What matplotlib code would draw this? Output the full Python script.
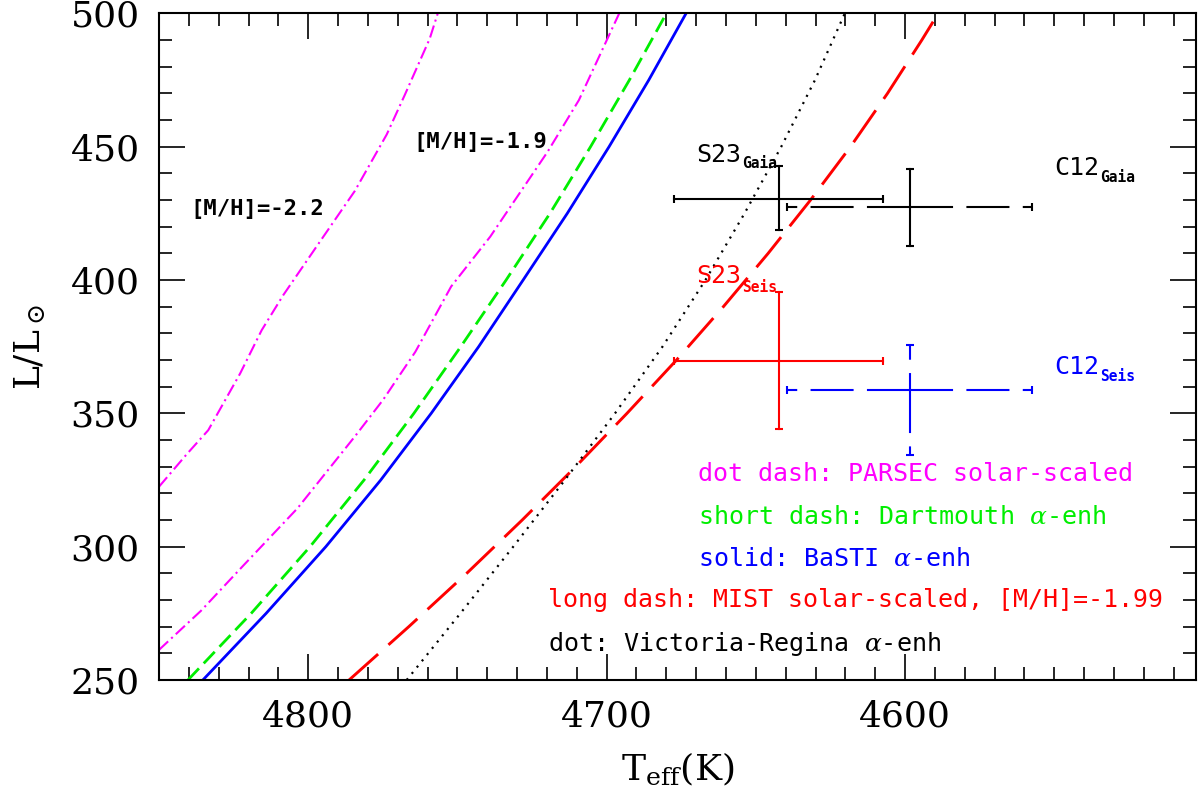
import numpy as np
import matplotlib
matplotlib.use('Agg')
import matplotlib.pyplot as plt
from matplotlib.ticker import MultipleLocator

plt.rcParams['lines.scale_dashes'] = False
plt.rcParams['mathtext.fontset'] = 'dejavuserif'
plt.rcParams['font.family'] = 'DejaVu Serif'

# isochrones (Teff in K, L in Lsun)
parsec22_T = [4850, 4840.7, 4833.5, 4822.8, 4815.6, 4808.4, 4796.4, 4784.4, 4773.7, 4767.7, 4759.3, 4756.6]
parsec22_L = [322.5, 334.7, 343.7, 365.0, 381.2, 394.3, 413.9, 433.4, 454.6, 469.3, 490.5, 500]
parsec19_T = [4850, 4835.9, 4821.6, 4803.6, 4784.4, 4774.9, 4764.1, 4752.1, 4739.0, 4719.8, 4709.3, 4695.8]
parsec19_L = [261.3, 276, 293.1, 314.4, 341.3, 355.1, 373.1, 397.6, 416.3, 448.1, 467.5, 500]
iso_L = [250, 275, 300, 325, 350, 375, 400, 425, 450, 475, 500]
dartmouth_T = [4840.3, 4819.1, 4799.4, 4781.3, 4764.6, 4748.9, 4733.7, 4719.0, 4705.4, 4692.4, 4680.0]
basti_T = [4835.3, 4814.1, 4794.1, 4775.7, 4758.8, 4742.9, 4728.0, 4713.2, 4699.2, 4685.9, 4673.4]
mist_L = [250, 270, 290, 310, 330, 350, 370, 390, 410, 430, 450, 470, 490, 500]
mist_T = [4786.3, 4766.3, 4746.9, 4728.3, 4710.4, 4693.2, 4676.6, 4660.9, 4645.9, 4631.7, 4618.3, 4605.9, 4594.4, 4588.9]
vr_T = [4767.0, 4749.0, 4731.3, 4714.0, 4697.2, 4681.3, 4666.9, 4653.8, 4641.5, 4630.2, 4620.2]

# observed points: S23_Gaia, C12_Gaia, S23_Seis, C12_Seis
obs_T = [4642.4, 4598.5, 4642.4, 4598.5]
obs_L = [430.4, 427.5, 369.8, 358.8]
obs_dT = [35, 41, 35, 41]
obs_dL_lo = [11.7, 14.6, 25.8, 24.4]
obs_dL_hi = [12.5, 14.2, 25.8, 16.8]

fig = plt.figure(figsize=(12, 7.93), dpi=100)
ax = fig.add_axes([159/1200, (793-680)/793, (1196-159)/1200, (680-13.5)/793])

ax.plot(parsec22_T, parsec22_L, color='magenta', lw=1.5, ls=(0, (9, 3, 1.5, 3)))
ax.plot(parsec19_T, parsec19_L, color='magenta', lw=1.5, ls=(0, (9, 3, 1.5, 3)))
ax.plot(dartmouth_T, iso_L, color='#00ee00', lw=2.0, ls=(0, (11.5, 5)))
ax.plot(basti_T, iso_L, color='blue', lw=2.0)
ax.plot(mist_T, mist_L, color='red', lw=2.1, ls=(0, (28, 10)))
ax.plot(vr_T, iso_L, color='black', lw=1.6, ls=(0, (1.5, 4.3)))

def cross(T, L, dT, dlo, dhi, color, hls, vls_up, vls_dn):
    kw = dict(color=color, lw=1.5)
    ax.plot([T, T + dT], [L, L], ls=hls, **kw)
    ax.plot([T, T - dT], [L, L], ls=hls, **kw)
    ax.plot([T, T], [L, L + dhi], ls=vls_up, **kw)
    ax.plot([T, T], [L, L - dlo], ls=vls_dn, **kw)
    ax.plot([T - dT, T + dT], [L, L], ls='none', marker='|', ms=6, mew=1.5, color=color)
    ax.plot([T, T], [L - dlo, L + dhi], ls='none', marker='_', ms=6, mew=1.5, color=color)

dash = (0, (31, 9.6))
cross(obs_T[0], obs_L[0], obs_dT[0], obs_dL_lo[0], obs_dL_hi[0], 'black', '-', '-', '-')
cross(obs_T[1], obs_L[1], obs_dT[1], obs_dL_lo[1], obs_dL_hi[1], 'black', dash, '-', '-')
cross(obs_T[2], obs_L[2], obs_dT[2], obs_dL_lo[2], obs_dL_hi[2], 'red', '-', '-', '-')
cross(obs_T[3], obs_L[3], obs_dT[3], obs_dL_lo[3], obs_dL_hi[3], 'blue', dash, (18.8, (31, 9.6)), dash)

mono = 'DejaVu Sans Mono'
def tag(T, L, main, sub, Tsub, Lsub, color):
    ax.text(T, L, main, color=color, family=mono, fontsize=18, va='baseline', ha='left')
    ax.text(Tsub, Lsub, sub, color=color, family=mono, fontsize=10.5, fontweight='bold',
            va='baseline', ha='left')

tag(4670, 444.4, 'S23', 'Gaia', 4654.7, 441.9, 'black')
tag(4550, 439.4, 'C12', 'Gaia', 4534.7, 436.9, 'black')
tag(4670, 398.8, 'S23', 'Seis', 4654.7, 395.6, 'red')
tag(4550, 364.6, 'C12', 'Seis', 4534.7, 362.1, 'blue')

ax.text(4839.5, 424.5, '[M/H]=-2.2', family=mono, fontsize=16, fontweight='bold', va='baseline')
ax.text(4764.7, 449.4, '[M/H]=-1.9', family=mono, fontsize=16, fontweight='bold', va='baseline')

legend_txt = [('dot dash: PARSEC solar-scaled', 'magenta', 4669.5, 324.6),
              (r'short dash: Dartmouth $\alpha$-enh', '#00ee00', 4669.5, 308.7),
              (r'solid: BaSTI $\alpha$-enh', 'blue', 4669.5, 292.8),
              ('long dash: MIST solar-scaled, [M/H]=-1.99', 'red', 4719.6, 277.5),
              (r'dot: Victoria-Regina $\alpha$-enh', 'black', 4719.6, 261.0)]
for s, c, x, y in legend_txt:
    ax.text(x, y, s, color=c, family=mono, fontsize=18, va='baseline', ha='left')

ax.set_xlim(4850, 4502.5)
ax.set_ylim(250, 500)
ax.xaxis.set_major_locator(MultipleLocator(100))
ax.xaxis.set_minor_locator(MultipleLocator(10))
ax.yaxis.set_major_locator(MultipleLocator(50))
ax.yaxis.set_minor_locator(MultipleLocator(10))
ax.tick_params(which='both', direction='in', top=True, right=True, width=1.2)
ax.tick_params(which='major', length=18.5, labelsize=26, pad=14)
ax.tick_params(which='minor', length=9.5)
for sp in ax.spines.values():
    sp.set_linewidth(1.5)

ax.set_xlabel(r'T$_{\rm eff}$(K)', fontsize=26, labelpad=12)
ax.set_ylabel(r'L/L$_\odot$', fontsize=26, labelpad=16)

fig.savefig('out.png', dpi=100)
